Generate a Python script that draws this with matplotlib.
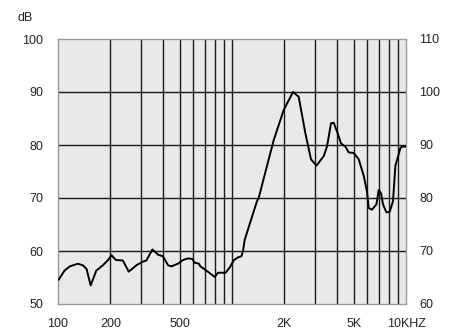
import numpy as np
import matplotlib
matplotlib.use('Agg')
from matplotlib import pyplot as plt

plt.rcParams['font.family'] = ['Liberation Sans', 'DejaVu Sans']

# frequency response
freq = [101, 109, 117, 130, 139, 146, 154, 166, 181, 194, 203, 215, 236, 255,
        282, 308, 322, 349, 376, 401, 429, 448, 489, 523, 559, 592, 610, 646,
        658, 713, 795, 831, 920, 970, 1027, 1083, 1132, 1157, 1183, 1264,
        1392, 1423, 1556, 1736, 1982, 2242, 2417, 2641, 2844, 3056, 3365,
        3516, 3707, 3841, 4052, 4231, 4485, 4684, 5005, 5348, 5714, 5969,
        6105, 6377, 6760, 6968, 7183, 7375, 7715, 8059, 8420, 8692, 9285,
        9484, 9920]
level = [54.6, 56.3, 57.1, 57.6, 57.3, 56.6, 53.5, 56.3, 57.3, 58.3, 59.2,
         58.3, 58.2, 56.1, 57.3, 58.0, 58.2, 60.3, 59.3, 59.0, 57.3, 57.1,
         57.6, 58.3, 58.6, 58.5, 57.8, 57.6, 57.1, 56.3, 55.1, 55.9, 55.9,
         56.9, 58.3, 58.8, 59.0, 60.0, 62.1, 65.1, 69.4, 70.0, 74.9, 80.9,
         86.6, 90.0, 89.1, 82.2, 77.3, 76.1, 77.9, 79.7, 84.1, 84.2, 82.2,
         80.3, 79.7, 78.6, 78.5, 77.3, 74.2, 71.2, 68.1, 67.8, 68.8, 71.5,
         70.9, 68.8, 67.3, 67.4, 69.4, 76.1, 79.4, 79.7, 79.7]

left_ticks = [50, 60, 70, 80, 90, 100]
right_ticks = [60, 70, 80, 90, 100, 110]
x_ticks = [100, 200, 500, 2000, 5000, 10000]
x_labels = ['100', '200', '500', '2K', '5K', '10KHZ']
grid_x = [200, 300, 400, 500, 600, 700, 800, 900, 1000,
          2000, 3000, 4000, 5000, 6000, 7000, 8000, 9000]

fig = plt.figure(figsize=(4.68, 3.34), dpi=100)
ax = fig.add_axes([58 / 468, 30 / 334, 348 / 468, 265 / 334])
ax.set_facecolor('#e9e9e9')
ax.set_xscale('log')
ax.set_xlim(100, 10000)
ax.set_ylim(50, 100)

for g in grid_x:
    ax.axvline(g, color='#1a1a1a', lw=1.0, zorder=1)
for g in left_ticks[1:-1]:
    ax.axhline(g, color='#1a1a1a', lw=1.0, zorder=1)

ax.plot(freq, level, color='black', lw=1.4, zorder=3)

ax.set_xticks(x_ticks)
ax.set_xticklabels(x_labels)
ax.xaxis.set_minor_locator(matplotlib.ticker.NullLocator())
ax.set_yticks(left_ticks)
ax.tick_params(length=0, labelsize=9, colors='#222222')
ax.tick_params(axis='x', pad=10)
ax.tick_params(axis='y', pad=10.5)
for s in ax.spines.values():
    s.set_color('#9a9a9a')
    s.set_linewidth(1.0)

ax2 = ax.twinx()
ax2.set_ylim(60, 110)
ax2.set_yticks(right_ticks)
ax2.tick_params(length=0, labelsize=9, colors='#222222', pad=9.5)
for s in ax2.spines.values():
    s.set_visible(False)

fig.text(17 / 468, 1 - 18 / 334, 'dB', fontsize=9, color='#222222',
         va='center', ha='left')

fig.savefig('out.png', dpi=100)
